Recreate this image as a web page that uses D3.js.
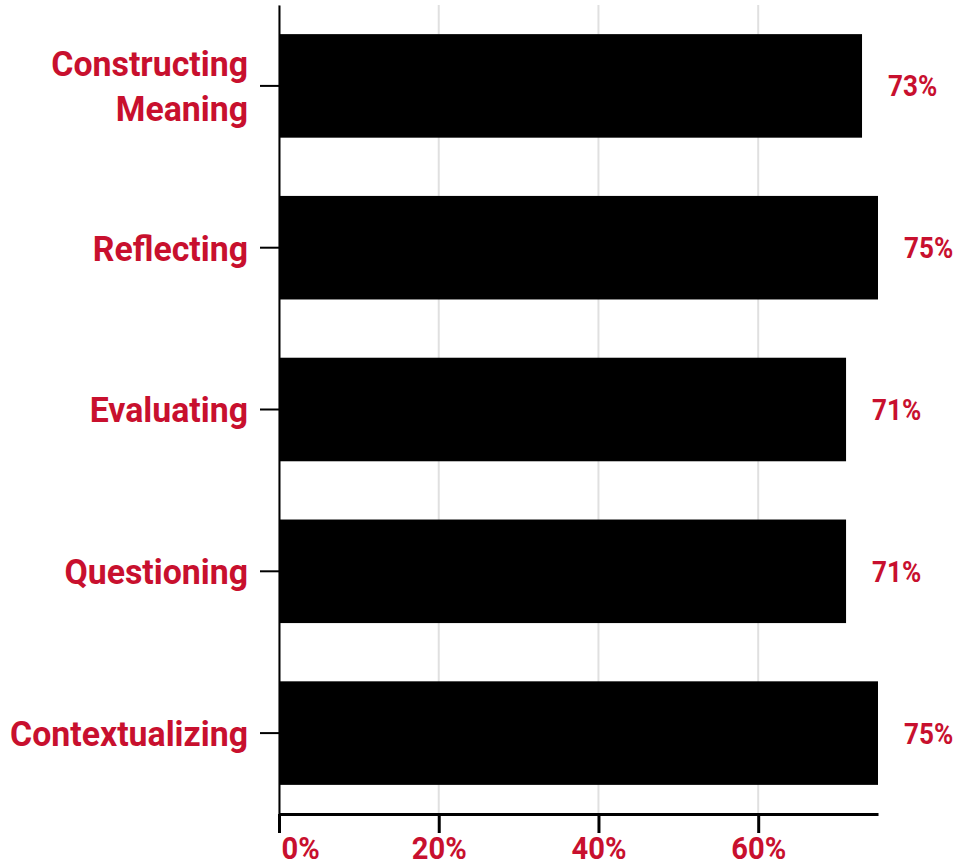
<!DOCTYPE html>
<html>
<head>
<meta charset="utf-8">
<script src="https://cdn.jsdelivr.net/npm/d3@7"></script>
<style>
    body { margin: 0; background: #fff; }
    .label { font-family: Roboto, sans-serif; font-weight: 700; fill: #c8102e; }
</style>
</head>
<body>
<div id="chart"></div>
<script>
const categories = ["Constructing Meaning", "Reflecting", "Evaluating", "Questioning", "Contextualizing"];
const values = [73, 75, 71, 71, 75];
const xTicks = [0, 20, 40, 60];

// horizontal squeeze, stand-in for a condensed face
const squeezeCat = 0.94;
const squeezeVal = 0.9;
const squeezeTick = 0.94;

const width = 969, height = 867;
const margin = { top: 5, right: 91, bottom: 53, left: 279 };
const innerW = width - margin.left - margin.right;
const innerH = height - margin.top - margin.bottom;

const svg = d3.select("#chart")
    .append("svg")
    .attr("width", width)
    .attr("height", height)
    .append("g")
    .attr("transform", `translate(${margin.left}, ${margin.top})`);

const x = d3.scaleLinear()
    .domain([0, d3.max(values)])
    .range([0, innerW]);

const y = d3.scaleBand()
    .domain(categories)
    .range([0, innerH])
    .paddingInner(0.36)
    .paddingOuter(0.18);

// gridlines
svg.append("g")
    .selectAll("line")
    .data(xTicks)
    .join("line")
    .attr("x1", d => x(d))
    .attr("x2", d => x(d))
    .attr("y1", 0)
    .attr("y2", innerH)
    .style("stroke", "#e0e0e0")
    .style("stroke-width", "2px");

// bars
svg.append("g")
    .selectAll("rect")
    .data(values)
    .join("rect")
    .attr("x", 0)
    .attr("y", (d, i) => y(categories[i]))
    .attr("width", d => x(d))
    .attr("height", y.bandwidth())
    .style("fill", "#000");

// value labels
svg.append("g")
    .selectAll("text")
    .data(values)
    .join("text")
    .attr("class", "label")
    .attr("transform", (d, i) => `translate(${x(d) + 26}, ${y(categories[i]) + y.bandwidth() / 2}) scale(${squeezeVal}, 1)`)
    .attr("dy", "0.36em")
    .style("font-size", "29px")
    .text(d => d + "%");

// x axis
let xAxis = d3.axisBottom(x)
    .tickValues(xTicks)
    .tickSize(19)
    .tickSizeOuter(0)
    .tickFormat(d => d + "%");

let xg = svg.append("g")
    .attr("transform", `translate(0, ${innerH})`)
    .call(xAxis);
xg.select(".domain").style("stroke", "#000").style("stroke-width", "3px");
xg.selectAll(".tick line").style("stroke", "#000").style("stroke-width", "3px");
xg.selectAll(".tick text")
    .attr("class", "label")
    .attr("y", 0)
    .attr("dy", 0)
    .attr("x", 0)
    .attr("transform", d => `translate(${d === 0 ? 2 : 0}, 45) scale(${squeezeTick}, 1)`)
    .style("font-size", "31px")
    .style("text-anchor", d => d === 0 ? "start" : "middle");

// y axis
let yAxis = d3.axisLeft(y)
    .tickSize(19)
    .tickSizeOuter(0);

let yg = svg.append("g").call(yAxis);
yg.select(".domain").style("stroke", "#000").style("stroke-width", "2px");
yg.selectAll(".tick line").style("stroke", "#000").style("stroke-width", "2px");
yg.selectAll(".tick text").remove();

// category labels, wrapped when too long
yg.selectAll(".tick").each(function(d) {
    let words = d.split(" ");
    let lines = [];
    let line = [];
    let probe = d3.select(this).append("text")
        .attr("class", "label")
        .style("font-size", "36px");
    words.forEach(function(w) {
        line.push(w);
        probe.text(line.join(" "));
        if (probe.node().getComputedTextLength() * squeezeCat > 245 && line.length > 1) {
            line.pop();
            lines.push(line.join(" "));
            line = [w];
        }
    });
    lines.push(line.join(" "));
    probe.remove();

    let lineHeight = 45;
    let start = -(lines.length - 1) * lineHeight / 2;
    let t = d3.select(this).append("text")
        .attr("class", "label")
        .attr("transform", `translate(-31, 0) scale(${squeezeCat}, 1)`)
        .style("font-size", "36px")
        .style("text-anchor", "end");
    lines.forEach(function(l, i) {
        t.append("tspan")
            .attr("x", 0)
            .attr("y", start + i * lineHeight)
            .attr("dy", "0.36em")
            .text(l);
    });
});
</script>
</body>
</html>
